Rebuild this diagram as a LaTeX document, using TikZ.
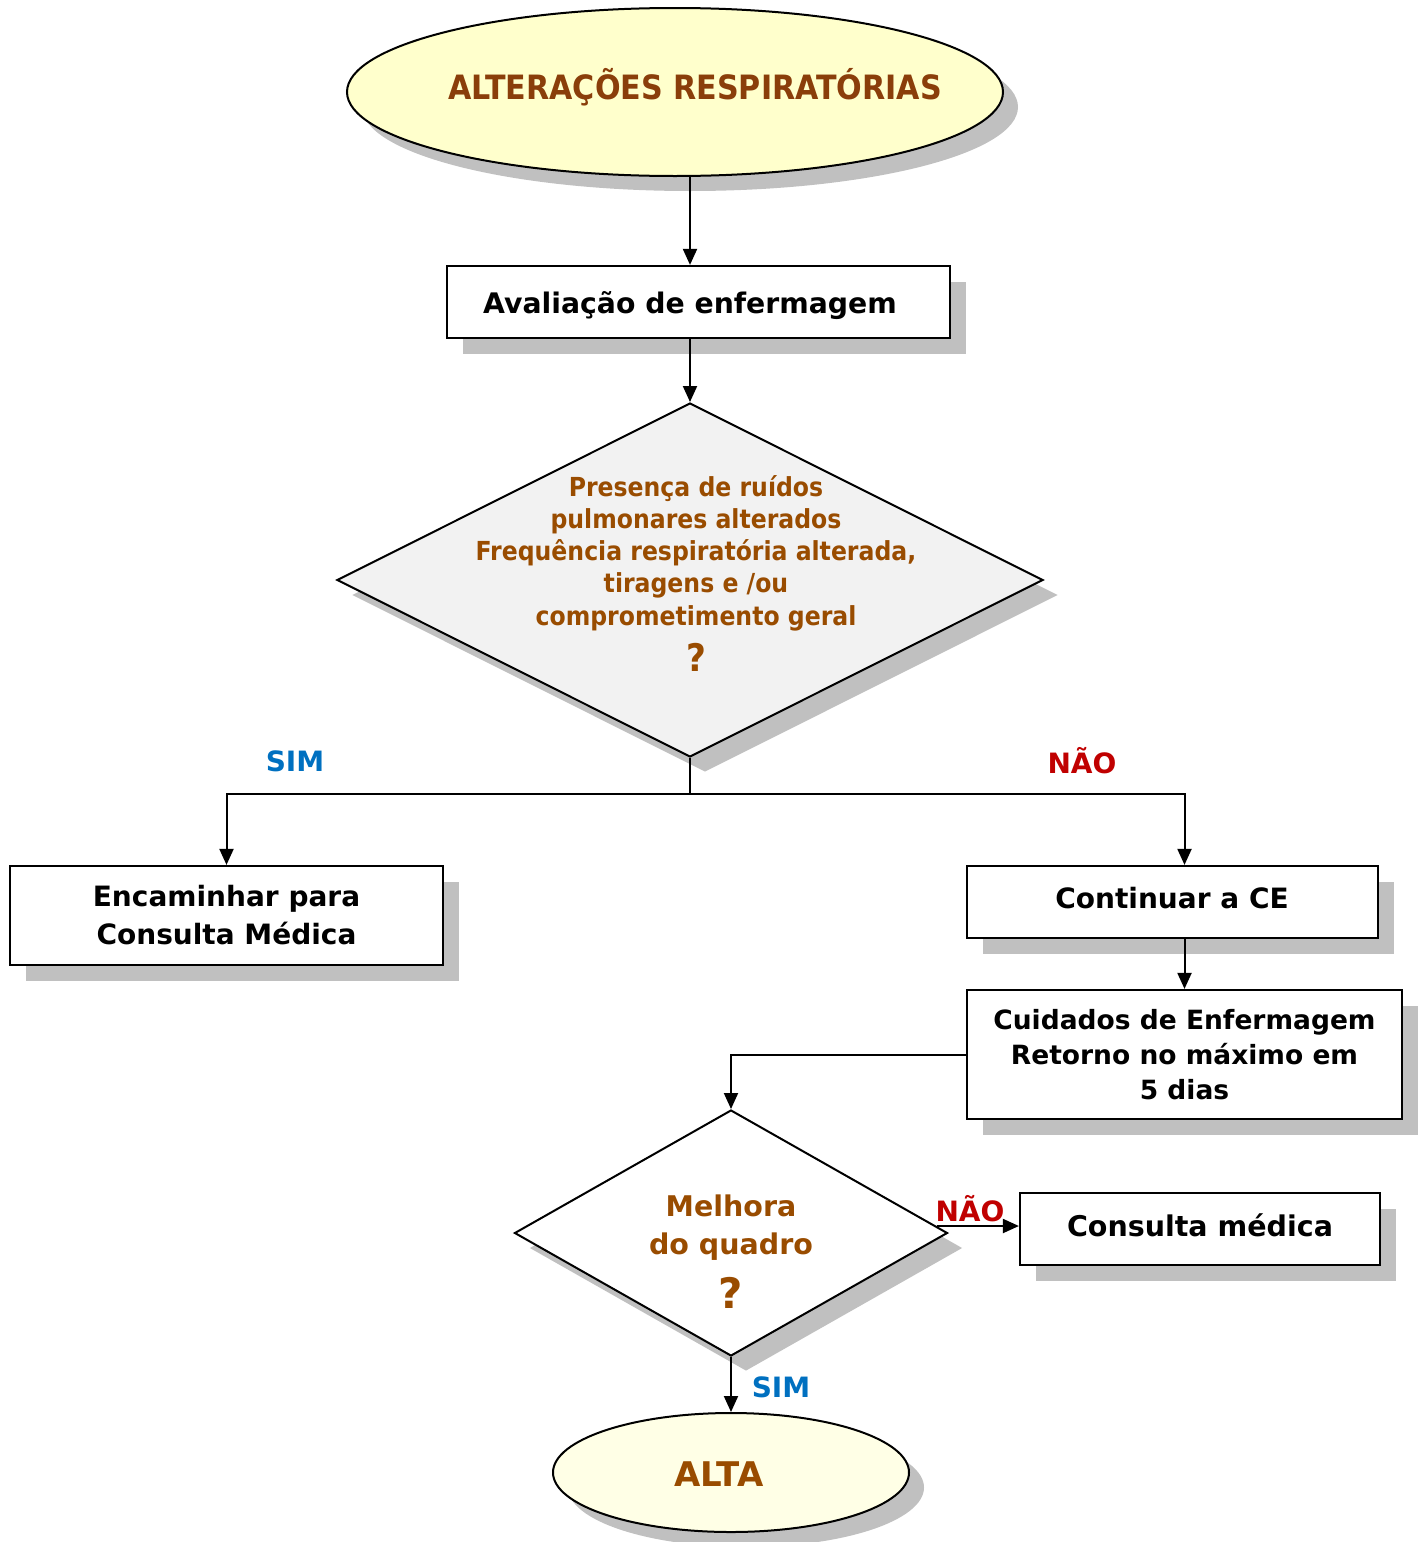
\documentclass[tikz,border=0pt]{standalone}
\usepackage{fontspec}
\setmainfont{DejaVu Sans}
\newfontfamily\condfont{DejaVu Sans Condensed}
\usetikzlibrary{shapes.geometric,shadows,arrows.meta,calc}

\definecolor{titlebrown}{RGB}{138,62,10}
\definecolor{askbrown}{RGB}{153,76,0}
\definecolor{simblue}{RGB}{0,112,192}
\definecolor{naored}{RGB}{192,0,0}
\definecolor{paleyellow}{RGB}{255,255,204}
\definecolor{cream}{RGB}{255,255,230}
\definecolor{lightgrey}{RGB}{242,242,242}
\definecolor{shadowgrey}{RGB}{192,192,192}

\tikzset{
  shade15/.style={drop shadow={shadow xshift=15pt,shadow yshift=-15pt,fill=shadowgrey,opacity=1}},
  shade16/.style={drop shadow={shadow xshift=16pt,shadow yshift=-16pt,fill=shadowgrey,opacity=1}},
  terminal/.style={ellipse,draw=black,line width=2pt,inner sep=0pt,shade15,font=\bfseries},
  stepbox/.style={rectangle,draw=black,line width=2.2pt,fill=white,inner sep=0pt,shade16,
    font=\bfseries\fontsize{28}{38}\selectfont,align=center},
  decision/.style={diamond,draw=black,line width=2pt,inner sep=0pt,shade15},
  asktext/.style={text=askbrown,align=center,inner sep=0pt},
  answer/.style={font=\bfseries\fontsize{28}{30}\selectfont,inner sep=0pt},
  arr/.style={line width=2pt,-{Triangle[length=16pt,width=14pt]}},
  plain/.style={line width=2pt}
}

\begin{document}
\begin{tikzpicture}[x=1pt,y=-1pt]
\useasboundingbox (0,0) rectangle (1423,1542);

% start
\node[terminal,fill=paleyellow,minimum width=656pt,minimum height=168pt] (start) at (675,92) {};
\node[text=titlebrown,inner sep=0pt,font=\condfont\bfseries\fontsize{33.5}{36}\selectfont] (starttxt) at (695,87) {ALTERAÇÕES RESPIRATÓRIAS};

% nursing assessment
\node[stepbox,minimum width=503pt,minimum height=72pt] (assess) at (698.5,302) {};
\node[font=\bfseries\fontsize{28.3}{34}\selectfont,inner sep=0pt] (assesstxt) at (690,306) {Avaliação de enfermagem};

% first decision
\node[decision,fill=lightgrey,minimum width=706pt,minimum height=354pt] (q1) at (690,580) {};
\node[asktext,font=\condfont\bfseries\fontsize{26.2}{32.2}\selectfont] (q1txt) at (696,553)
  {Presença de ruídos\\pulmonares alterados\\Frequência respiratória alterada,\\tiragens e /ou\\comprometimento geral};
\node[asktext,font=\condfont\bfseries\fontsize{38}{38}\selectfont] (q1mark) at (696,657) {?};

% outcomes of the first decision
\node[stepbox,minimum width=433pt,minimum height=99pt] (refer) at (226.5,915.5) {Encaminhar para\\Consulta Médica};
\node[stepbox,minimum width=411pt,minimum height=72pt] (cont) at (1172.5,902) {};
\node[font=\bfseries\fontsize{28}{34}\selectfont,inner sep=0pt] (conttxt) at (1172,898) {Continuar a CE};
\node[stepbox,minimum width=435pt,minimum height=129pt,font=\bfseries\fontsize{26.5}{35}\selectfont] (care) at (1184.5,1054.5)
  {Cuidados de Enfermagem\\Retorno no máximo em\\5 dias};

% second decision
\node[decision,fill=white,minimum width=433pt,minimum height=246pt] (q2) at (731,1233) {};
\node[asktext,font=\bfseries\fontsize{28.5}{38}\selectfont] (q2txt) at (731,1228) {Melhora\\do quadro};
\node[asktext,font=\bfseries\fontsize{42}{42}\selectfont] (q2mark) at (731,1293) {?};

\node[stepbox,minimum width=360pt,minimum height=72pt] (doctor) at (1200,1229) {};
\node[font=\bfseries\fontsize{28.5}{34}\selectfont,inner sep=0pt] (doctortxt) at (1200,1225) {Consulta médica};

% discharge
\node[terminal,fill=cream,minimum width=356pt,minimum height=119pt] (alta) at (731,1472.5) {};
\node[text=askbrown,inner sep=0pt,font=\bfseries\fontsize{34}{36}\selectfont] (altatxt) at (719,1474) {ALTA};

% answer labels
\node[answer,text=simblue] (sim1) at (295,761) {SIM};
\node[answer,text=naored] (nao1) at (1082,761) {NÃO};
\node[answer,text=naored] (nao2) at (970,1209) {NÃO};
\node[answer,text=simblue] (sim2) at (781,1387) {SIM};

% connectors
\draw[arr] (start.south -| q1.north) -- (assess.north -| q1.north);
\draw[arr] (assess.south -| q1.north) -- (q1.north);
\coordinate (split) at (687,794);
\draw[plain] (q1.south) -- (q1.south |- split);
\draw[arr] (split) -| (refer.north);
\draw[arr] (split) -| (care.north |- cont.north);
\draw[arr] (cont.south -| care.north) -- (care.north);
\draw[arr] (care.west) -| (q2.north);
\coordinate (q2out) at (937,1226);
\draw[arr] (q2out) -- (q2out -| doctor.west);
\draw[arr] (q2.south) -- (alta.north);
\end{tikzpicture}
\end{document}
